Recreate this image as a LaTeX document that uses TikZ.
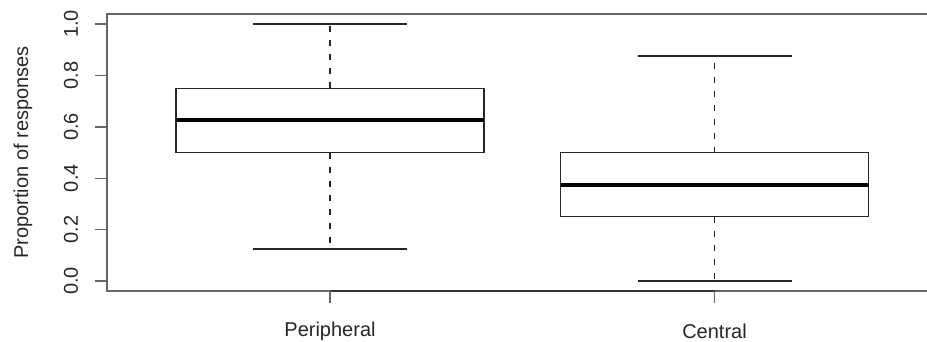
\documentclass[tikz,border=0pt]{standalone}
\usepackage{fontspec}
\setmainfont{Liberation Sans}

\begin{document}
\begin{tikzpicture}[x=1pt,y=-1pt,
    frame/.style={black!60,line width=1.4pt},
    boxline/.style={black!85,line width=1.3pt},
    whisker/.style={black!85,line width=1.3pt,dash pattern=on 6pt off 8pt},
    median/.style={black,line width=4pt},
    lbl/.style={text=black!85,inner sep=0pt,font=\fontsize{20}{24}\selectfont}]
    \useasboundingbox (0,0) rectangle (927,341);
    \draw[frame] (927,14) -- (107,14) -- (107,291) -- (927,291);
    \foreach \v in {0.0,0.2,0.4,0.6,0.8,1.0}
    \draw[frame] (95,{281-257*\v}) -- (107,{281-257*\v})
      node[lbl,rotate=90] (ytick\v) at (71,{281-257*\v}) {\v};
    \node[lbl,rotate=90] (ylabel) at (23,152.5) {Proportion of responses};

    \foreach \c/\lo/\qa/\md/\qb/\hi in {330/0.125/0.5/0.625/0.75/1.0,714.5/0.0/0.25/0.375/0.5/0.875} {
      \draw[whisker] (\c,{281-257*\qb}) -- (\c,{281-257*\hi});
      \draw[whisker] (\c,{281-257*\qa}) -- (\c,{281-257*\lo});
      \draw[boxline] ({\c-77},{281-257*\hi}) -- ({\c+77},{281-257*\hi});
      \draw[boxline] ({\c-77},{281-257*\lo}) -- ({\c+77},{281-257*\lo});
      \draw[boxline] ({\c-154},{281-257*\qa}) rectangle ({\c+154},{281-257*\qb});
      \draw[median] ({\c-154},{281-257*\md}) -- ({\c+154},{281-257*\md});
    }

    \draw[frame,black!80] (330,291) -- (714.5,291);
    \draw[frame] (330,291) -- (330,303);
    \draw[frame] (714.5,291) -- (714.5,303);
    \node[lbl] (peripheral) at (330,331) {Peripheral};
    \node[lbl] (central) at (714.5,331) {Central};
\end{tikzpicture}
\end{document}
